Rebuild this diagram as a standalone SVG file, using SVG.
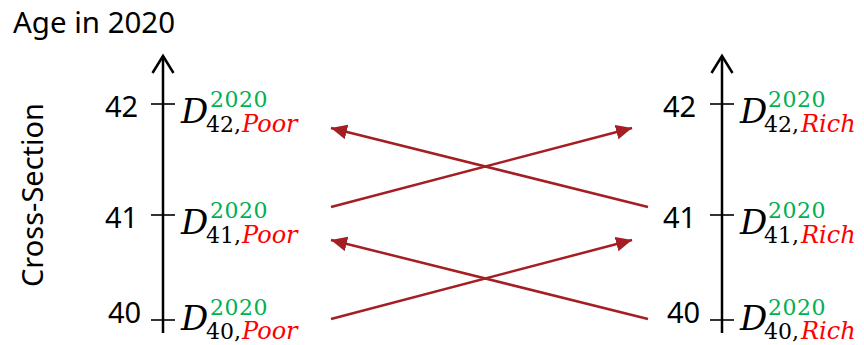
<svg xmlns="http://www.w3.org/2000/svg" width="864" height="345" viewBox="0 0 864 345">
  <style>
    .lbl { font-family: "Noto Sans", "Open Sans", sans-serif; font-size: 29px; fill: #000; }
    .axis { stroke: #000; stroke-width: 2.5; fill: none; }
    .tick { stroke: #000; stroke-width: 1.6; }
    .D { font-family: "DejaVu Serif", "Liberation Serif", serif; font-style: italic; font-size: 34px; fill: #000; }
    .sup { font-family: "DejaVu Serif", "Liberation Serif", serif; font-size: 22px; fill: #00B050; letter-spacing: 0.5px; }
    .sub { font-family: "DejaVu Serif", "Liberation Serif", serif; font-size: 22px; fill: #000; }
    .grp { font-family: "DejaVu Serif", "Liberation Serif", serif; font-style: italic; font-size: 24px; fill: #FF0000; }
    .link { stroke: #A31F24; stroke-width: 2.5; fill: none; marker-end: url(#tri); }
  </style>
  <defs>
    <marker id="tri" markerUnits="userSpaceOnUse" markerWidth="18" markerHeight="16" refX="16" refY="7.5" orient="auto">
      <path d="M0,0 L16,7.5 L0,15 Z" fill="#A31F24"/>
    </marker>
  </defs>

  <!-- titles -->
  <text class="lbl" x="13" y="33" textLength="162" lengthAdjust="spacingAndGlyphs">Age in 2020</text>
  <text class="lbl" transform="translate(43,195) rotate(-90)" text-anchor="middle">Cross-Section</text>

  <!-- poor axis -->
  <g id="axis-poor">
    <path class="axis" d="M163,333 V57"/>
    <path class="axis" d="M152.5,73 L163,56 L173.5,73"/>
    <line class="tick" x1="151" y1="104" x2="175" y2="104"/>
    <line class="tick" x1="151" y1="215" x2="175" y2="215"/>
    <line class="tick" x1="151" y1="320" x2="175" y2="320"/>
    <text class="lbl" x="105" y="117">42</text>
    <text class="lbl" x="105" y="228">41</text>
    <text class="lbl" x="108" y="323">40</text>
  </g>

  <!-- rich axis -->
  <g id="axis-rich">
    <path class="axis" d="M722,333 V57"/>
    <path class="axis" d="M711.5,73 L722,56 L732.5,73"/>
    <line class="tick" x1="710" y1="104" x2="734" y2="104"/>
    <line class="tick" x1="710" y1="215" x2="734" y2="215"/>
    <line class="tick" x1="710" y1="320" x2="734" y2="320"/>
    <text class="lbl" x="663" y="117">42</text>
    <text class="lbl" x="663" y="228">41</text>
    <text class="lbl" x="667" y="323">40</text>
  </g>

  <!-- cohort nodes -->
  <g id="poor-42">
    <text class="D" x="181" y="123">D</text>
    <text class="sup" x="210" y="107">2020</text>
    <text class="sub" x="206" y="132">42,</text>
    <text class="grp" x="242" y="132">Poor</text>
  </g>
  <g id="poor-41">
    <text class="D" x="181" y="234">D</text>
    <text class="sup" x="210" y="218">2020</text>
    <text class="sub" x="206" y="243">41,</text>
    <text class="grp" x="242" y="243">Poor</text>
  </g>
  <g id="poor-40">
    <text class="D" x="181" y="330">D</text>
    <text class="sup" x="210" y="315">2020</text>
    <text class="sub" x="206" y="339">40,</text>
    <text class="grp" x="242" y="339">Poor</text>
  </g>
  <g id="rich-42">
    <text class="D" x="740" y="123">D</text>
    <text class="sup" x="768" y="107">2020</text>
    <text class="sub" x="764" y="132">42,</text>
    <text class="grp" x="801" y="132">Rich</text>
  </g>
  <g id="rich-41">
    <text class="D" x="740" y="234">D</text>
    <text class="sup" x="768" y="218">2020</text>
    <text class="sub" x="764" y="243">41,</text>
    <text class="grp" x="801" y="243">Rich</text>
  </g>
  <g id="rich-40">
    <text class="D" x="740" y="330">D</text>
    <text class="sup" x="768" y="315">2020</text>
    <text class="sub" x="764" y="339">40,</text>
    <text class="grp" x="801" y="339">Rich</text>
  </g>

  <!-- transitions between cohorts -->
  <g id="connectors">
    <line class="link" x1="331" y1="207" x2="632" y2="128"/>
    <line class="link" x1="648" y1="207" x2="331" y2="128"/>
    <line class="link" x1="331" y1="319" x2="632" y2="240"/>
    <line class="link" x1="648" y1="319" x2="331" y2="240"/>
  </g>
</svg>
